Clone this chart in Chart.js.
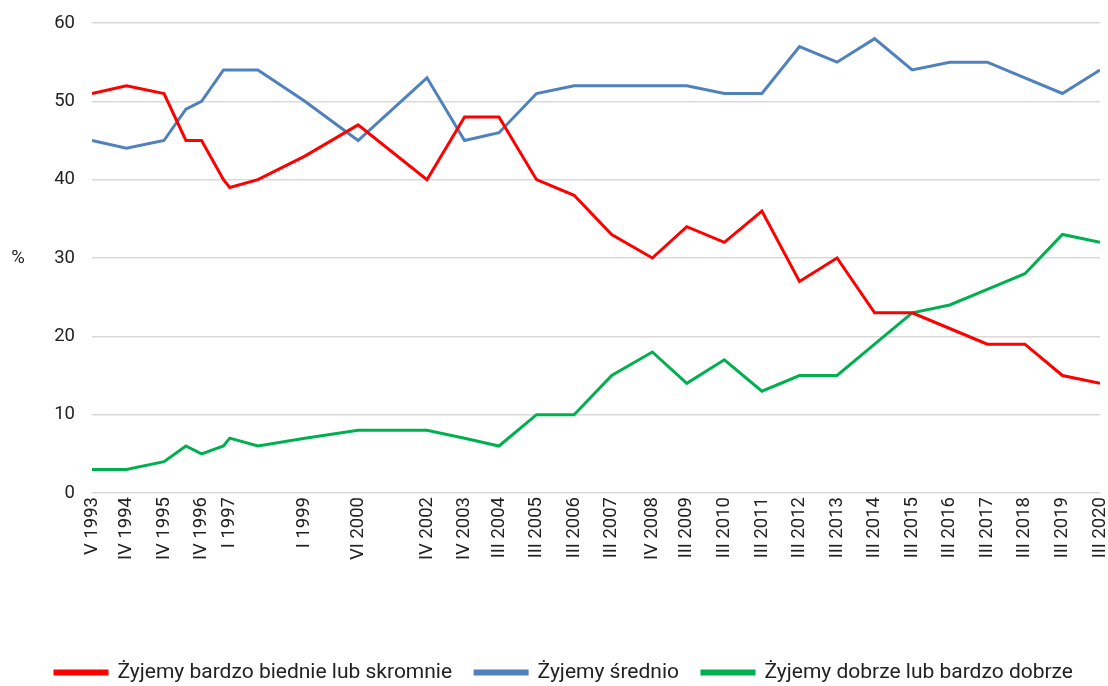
<!DOCTYPE html>
<html>
<head>
<meta charset="utf-8">
<script src="https://cdn.jsdelivr.net/npm/chart.js@4/dist/chart.umd.min.js"></script>
<style>
html,body{margin:0;padding:0;background:#fff;}
#wrap{width:1108px;height:686px;position:relative;}
</style>
</head>
<body>
<div id="wrap"><canvas id="c" width="1108" height="686"></canvas></div>
<script>
// Survey periods (label, year, month); empty label = unlabelled survey
const periodLabels = ['V 1993','IV 1994','IV 1995','','IV 1996','','I 1997','','I 1999','VI 2000','IV 2002','IV 2003','III 2004','III 2005','III 2006','III 2007','IV 2008','III 2009','III 2010','III 2011','III 2012','III 2013','III 2014','III 2015','III 2016','III 2017','III 2018','III 2019','III 2020'];
const periodYears = [1993,1994,1995,1995,1996,1996,1997,1997,1999,2000,2002,2003,2004,2005,2006,2007,2008,2009,2010,2011,2012,2013,2014,2015,2016,2017,2018,2019,2020];
const periodMonths = [5,4,4,11,4,11,1,10,1,6,4,4,3,3,3,3,4,3,3,3,3,3,3,3,3,3,3,3,3];

const poorValues = [51,52,51,45,45,40,39,40,43,47,40,48,48,40,38,33,30,34,32,36,27,30,23,23,21,19,19,15,14];
const averageValues = [45,44,45,49,50,54,54,54,50,45,53,45,46,51,52,52,52,52,51,51,57,55,58,54,55,55,53,51,54];
const wellValues = [3,3,4,6,5,6,7,6,7,8,8,7,6,10,10,15,18,14,17,13,15,15,19,23,24,26,28,33,32];

const seriesNames = ['Żyjemy bardzo biednie lub skromnie','Żyjemy średnio','Żyjemy dobrze lub bardzo dobrze'];
const yTicks = [0,10,20,30,40,50,60];

const xs = periodYears.map((y,i)=> y + (periodMonths[i]-1)/12);
const toPts = vals => vals.map((v,i)=>({x:xs[i], y:v}));
const labelAt = {};
xs.forEach((x,i)=>{ if(periodLabels[i]) labelAt[x.toFixed(4)] = periodLabels[i]; });

const FONT = 'Roboto, "Liberation Sans", Arial, sans-serif';

const percentPlugin = {
  id:'percentTitle',
  afterDraw(chart){
    const ctx = chart.ctx, a = chart.chartArea;
    ctx.save();
    ctx.font = '18.5px ' + FONT;
    ctx.fillStyle = '#222';
    ctx.textAlign = 'center';
    ctx.textBaseline = 'middle';
    ctx.fillText('%', 18, (a.top + a.bottom)/2);
    ctx.restore();
  }
};

const mk = (label, data, color) => ({
  label, data, borderColor: color, backgroundColor: color,
  borderWidth: 3, pointRadius: 0, pointHoverRadius: 0, tension: 0, fill: false
});

new Chart(document.getElementById('c'), {
  type: 'line',
  data: {
    datasets: [
      mk(seriesNames[0], toPts(poorValues), '#FF0000'),
      mk(seriesNames[1], toPts(averageValues), '#4F81BD'),
      mk(seriesNames[2], toPts(wellValues), '#00B050')
    ]
  },
  options: {
    responsive: false,
    animation: false,
    layout: { padding: { top: 23, right: 8, bottom: -7, left: 28 } },
    plugins: {
      tooltip: { enabled: false },
      legend: {
        position: 'bottom',
        labels: {
          font: { family: FONT, size: 21 },
          color: '#222',
          boxWidth: 52,
          boxHeight: 3,
          padding: 23
        }
      }
    },
    scales: {
      x: {
        type: 'linear',
        min: xs[0],
        max: xs[xs.length-1],
        grid: { display: false, drawTicks: false },
        border: { display: false },
        afterBuildTicks: s => { s.ticks = xs.map(v=>({value:v})); },
        afterFit: s => { s.height = 146; s.paddingLeft = 0; s.paddingRight = 0; },
        ticks: {
          autoSkip: false,
          minRotation: 90,
          maxRotation: 90,
          padding: 4,
          color: '#222',
          font: { family: FONT, size: 18.5 },
          callback: v => labelAt[Number(v).toFixed(4)] || ''
        }
      },
      y: {
        min: 0, max: 60,
        afterBuildTicks: s => { s.ticks = yTicks.map(v=>({value:v})); },
        afterFit: s => { s.width = 64; s.paddingTop = 0; s.paddingBottom = 0; },
        grid: { color: '#D9D9D9', lineWidth: 1.5, drawTicks: false },
        border: { display: false },
        ticks: {
          padding: 17,
          color: '#222',
          font: { family: FONT, size: 18.5 }
        }
      }
    }
  },
  plugins: [percentPlugin]
});
</script>
</body>
</html>
